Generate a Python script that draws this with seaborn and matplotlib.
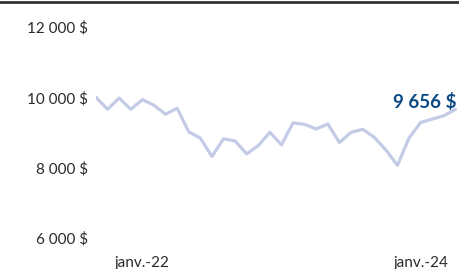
import matplotlib
matplotlib.use("Agg")
import matplotlib.pyplot as plt
import seaborn as sns
import pandas as pd
from matplotlib.lines import Line2D

# monthly values, sept. 2021 -> avr. 2024
months = pd.date_range("2021-09-01", periods=32, freq="MS")
values = [10000, 9660, 9980, 9660, 9935, 9775, 9520, 9690, 9020, 8840,
          8320, 8820, 8760, 8390, 8630, 9005, 8650, 9275, 9230, 9100,
          9240, 8715, 9005, 9090, 8865, 8505, 8065, 8840, 9285, 9380,
          9475, 9656]
yticks = [6000, 8000, 10000, 12000]
xtick_labels = ["janv.-22", "janv.-24"]
xtick_idx = [4, 28]

df = pd.DataFrame({"idx": range(len(values)), "value": values})

sns.set_theme(style="white")
plt.rcParams["font.family"] = ["Lato", "DejaVu Sans"]

fig = plt.figure(figsize=(4.6, 2.69), dpi=100)
ax = fig.add_axes([96 / 460, 1 - 238 / 269, (460 - 96) / 460, (238 - 27) / 269])

sns.lineplot(data=df, x="idx", y="value", ax=ax, color="#c4cbe7", linewidth=2.3)

ax.set_xlim(0, 31.4)
ax.set_ylim(6000, 12000)
ax.set_yticks(yticks)
ax.set_yticklabels([f"{v:,} $".replace(",", " ") for v in yticks])
ax.set_xticks(xtick_idx)
ax.set_xticklabels(xtick_labels)
ax.tick_params(axis="y", length=0, pad=6, labelsize=11, labelcolor="#2a2a2a")
ax.tick_params(axis="x", length=0, pad=13, labelsize=11, labelcolor="#2a2a2a")
ax.set_xlabel("")
ax.set_ylabel("")
sns.despine(ax=ax, left=True, bottom=True)
ax.grid(False)

last = values[-1]
ax.text(len(values) - 1 + 0.1, last + 40, f"{last:,} $".replace(",", " "),
        ha="right", va="baseline", fontsize=13.5, fontweight="bold", color="#0c4a84")

fig.add_artist(Line2D([0, 1], [1 - 2 / 269, 1 - 2 / 269], transform=fig.transFigure,
                      color="#333333", linewidth=2))

fig.savefig("out.png", dpi=100)
